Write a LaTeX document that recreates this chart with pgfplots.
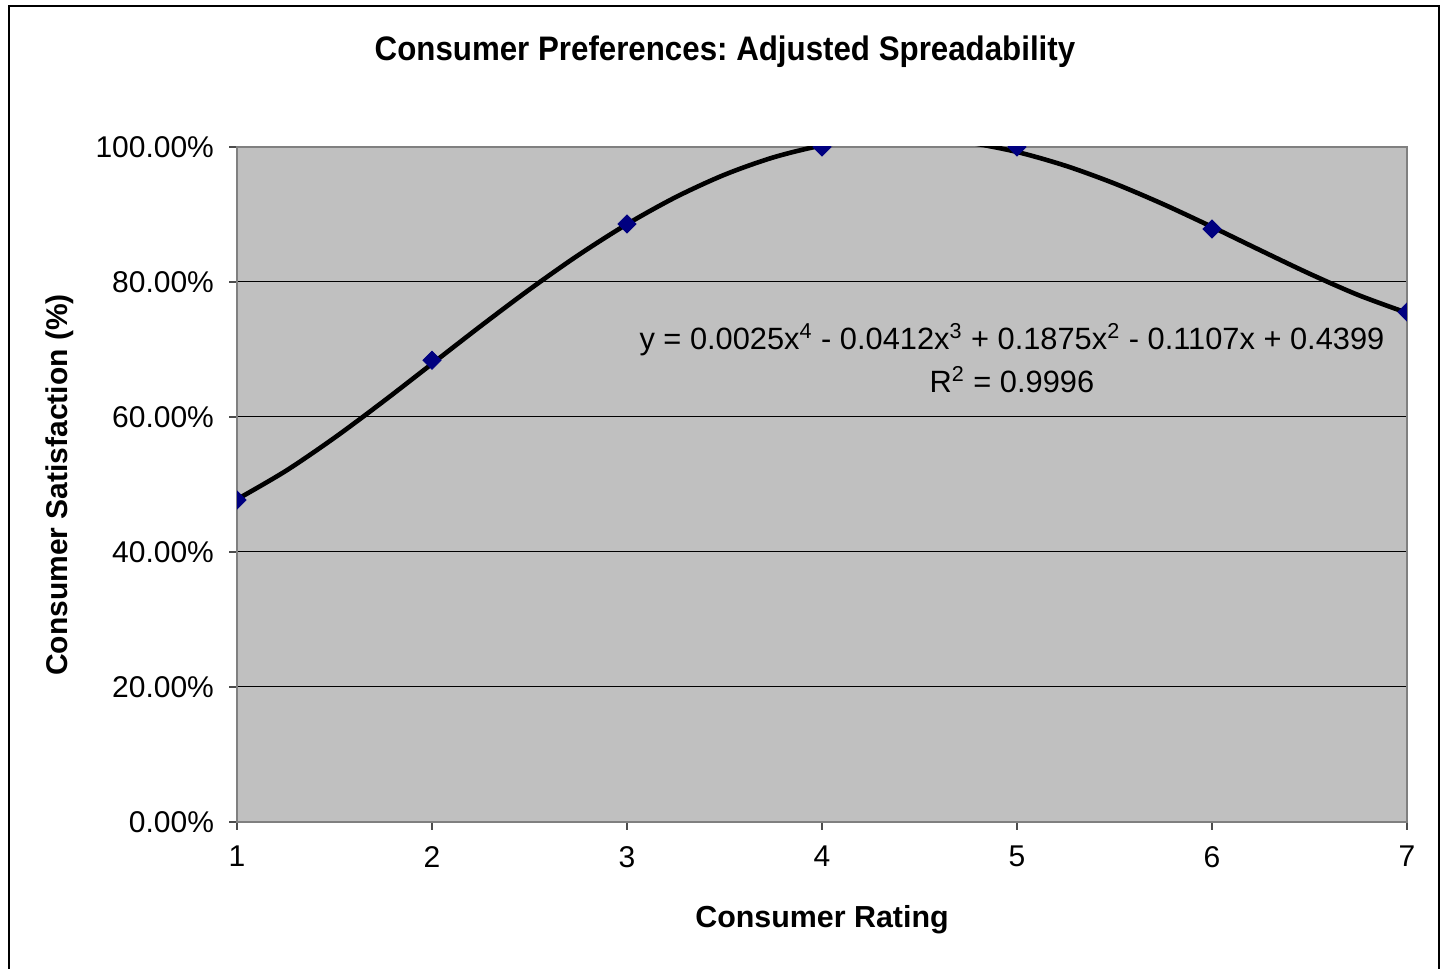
\documentclass[border=0pt]{standalone}
\usepackage{fontspec}
\setmainfont{Liberation Sans}
\usepackage{pgfplots}
\pgfplotsset{compat=1.18}
\frenchspacing

\definecolor{plotgray}{HTML}{C0C0C0}
\definecolor{framegray}{HTML}{808080}
\definecolor{marknavy}{HTML}{000080}

\begin{document}
\begin{tikzpicture}[x=1pt,y=1pt]
  % canvas and outer chart frame (1 px = 0.5 pt)
  \useasboundingbox (0,0) rectangle (723.5,484.5);
  \draw[black, line width=1pt] (4.5,-5) -- (4.5,481.5) -- (719.5,481.5) -- (719.5,-5);

  \begin{axis}[
    at={(118.5pt,73.5pt)}, anchor=origin,
    scale only axis,
    width=585pt, height=337.5pt,
    xmin=1, xmax=7, ymin=0, ymax=1,
    axis background/.style={fill=plotgray},
    axis line style={framegray, line width=0.8pt},
    xtick={1,2,3,4,5,6,7},
    ytick={0,0.2,0.4,0.6,0.8,1},
    yticklabels={0.00\%,20.00\%,40.00\%,60.00\%,80.00\%,100.00\%},
    tick align=outside,
    major tick length=4pt,
    tick style={black!70, line width=0.6pt},
    xtick pos=bottom, ytick pos=left,
    ymajorgrids,
    grid style={black, line width=0.5pt},
    ticklabel style={font=\fontsize{15}{18}\selectfont},
    /pgf/number format/assume math mode=true,
    xticklabel style={yshift=-4.5pt},
    yticklabel style={xshift=-4pt},
    clip=true,
  ]
    % fourth-order polynomial trendline, sampled
    \addplot[black, line width=2.3pt, smooth, no markers] coordinates {
      (1.00,0.47797) (1.25,0.52008) (1.50,0.56926) (1.75,0.62295)
      (2.00,0.67882) (2.25,0.73477) (2.50,0.78893) (2.75,0.83970)
      (3.00,0.88567) (3.25,0.92571) (3.50,0.95889) (3.75,0.98454)
      (4.00,1.00222) (4.25,1.01172) (4.50,1.01308) (4.75,1.00655)
      (5.00,0.99265) (5.25,0.97211) (5.50,0.94591) (5.75,0.91527)
      (6.00,0.88162) (6.25,0.84666) (6.50,0.81230) (6.75,0.78071)
      (7.00,0.75427)
    };
    % observed satisfaction by rating
    \addplot[only marks, mark=square*, mark size=3.2pt,
             mark options={rotate=45, fill=marknavy, draw=marknavy}, clip mode=individual] coordinates {
      (1,0.477) (2,0.684) (3,0.886) (4,1.000) (5,1.000) (6,0.8785) (7,0.7556)
    };
    \node[align=center, font=\fontsize{15.4}{21.5}\selectfont] at (axis cs:4.974,0.687)
      {y = 0.0025x\textsuperscript{4} - 0.0412x\textsuperscript{3} + 0.1875x\textsuperscript{2} - 0.1107x + 0.4399\\
       R\textsuperscript{2} = 0.9996};
  \end{axis}

  % titles
  \node[font=\bfseries\fontsize{17}{20}\selectfont, xscale=0.92] at (362.5,458.5)
    {Consumer Preferences: Adjusted Spreadability};
  \node[font=\bfseries\fontsize{15.2}{18}\selectfont] at (411,24.5) {Consumer Rating};
  \node[font=\bfseries\fontsize{15}{18}\selectfont, rotate=90] at (30,242)
    {Consumer Satisfaction (\%)};
\end{tikzpicture}
\end{document}
